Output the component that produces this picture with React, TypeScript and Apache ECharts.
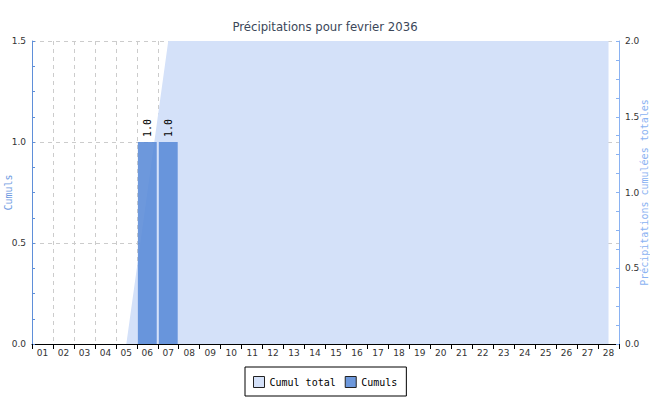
import React, { useEffect, useRef } from "react";
import * as echarts from "echarts";

// Days of the month
const days: string[] = [
  "01", "02", "03", "04", "05", "06", "07", "08", "09", "10",
  "11", "12", "13", "14", "15", "16", "17", "18", "19", "20",
  "21", "22", "23", "24", "25", "26", "27", "28",
];

// Daily precipitation (left axis)
const cumuls: number[] = [
  0, 0, 0, 0, 0, 1.0, 1.0, 0, 0, 0,
  0, 0, 0, 0, 0, 0, 0, 0, 0, 0,
  0, 0, 0, 0, 0, 0, 0, 0,
];

// Running total (right axis)
const cumulTotal: number[] = [
  0, 0, 0, 0, 0, 1.0, 2.0, 2.0, 2.0, 2.0,
  2.0, 2.0, 2.0, 2.0, 2.0, 2.0, 2.0, 2.0, 2.0, 2.0,
  2.0, 2.0, 2.0, 2.0, 2.0, 2.0, 2.0, 2.0,
];

const MONO = "'DejaVu Sans Mono', 'Liberation Mono', monospace";
const TICK_FONT = "'DejaVu Sans', 'Liberation Sans', sans-serif";

export default function App() {
  const ref = useRef<HTMLDivElement>(null);

  useEffect(() => {
    if (!ref.current) return;
    const chart = echarts.init(ref.current, undefined, { renderer: "svg" });
    chart.setOption({
      animation: false,
      backgroundColor: "#ffffff",
      title: {
        text: "Précipitations pour fevrier 2036",
        left: "center",
        top: 15,
        textStyle: {
          fontFamily: "'DejaVu Sans Condensed', 'Liberation Sans Narrow', 'DejaVu Sans', sans-serif",
          fontSize: 13,
          fontWeight: "normal",
          color: "#3b4759",
        },
      },
      grid: {
        left: 32,
        right: 31,
        top: 41,
        bottom: 56,
        containLabel: false,
        outerBoundsMode: "none",
      },
      legend: {
        data: ["Cumul total", "Cumuls"],
        bottom: 4,
        left: 245,
        icon: "rect",
        itemWidth: 11,
        itemHeight: 11,
        itemGap: 9,
        padding: [9, 9, 8, 8],
        borderColor: "#000000",
        borderWidth: 1,
        itemStyle: { borderColor: "#222222", borderWidth: 1 },
        textStyle: { fontFamily: MONO, fontSize: 10, color: "#000000" },
      },
      xAxis: {
        type: "category",
        data: days,
        boundaryGap: true,
        axisLine: { lineStyle: { color: "#000000", width: 1 } },
        axisTick: { show: true, length: 5, lineStyle: { color: "#000000" } },
        axisLabel: {
          interval: 0,
          margin: 4,
          fontSize: 9,
          fontFamily: TICK_FONT,
          color: "#333333",
        },
        splitLine: {
          show: true,
          interval: 0,
          lineStyle: { color: "#cccccc", type: [4, 4] },
        },
      },
      yAxis: [
        {
          type: "value",
          min: 0,
          max: 1.5,
          interval: 0.5,
          position: "left",
          name: "Cumuls",
          nameLocation: "middle",
          nameRotate: 90,
          nameGap: 19,
          nameMoveOverlap: false,
          nameTextStyle: { fontFamily: MONO, fontSize: 10, color: "#6f9be2" },
          axisLine: { show: true, lineStyle: { color: "#5f8fd9" } },
          axisTick: { show: true, inside: true, length: 3, lineStyle: { color: "#5f8fd9" } },
          minorTick: { show: true, splitNumber: 4, length: 3, lineStyle: { color: "#5f8fd9" } },
          axisLabel: {
            formatter: (v: number) => v.toFixed(1),
            margin: 6,
            fontSize: 9,
            fontFamily: TICK_FONT,
            color: "#333333",
          },
          splitLine: { show: true, lineStyle: { color: "#cccccc", type: [4, 4] } },
        },
        {
          type: "value",
          min: 0,
          max: 2,
          interval: 0.5,
          position: "right",
          name: "Précipitations cumulées totales",
          nameLocation: "middle",
          nameRotate: 90,
          nameGap: 20,
          nameMoveOverlap: false,
          nameTextStyle: { fontFamily: MONO, fontSize: 10, color: "#8ab2f2" },
          axisLine: { show: true, lineStyle: { color: "#8ab2f2" } },
          axisTick: { show: true, inside: true, length: 3, lineStyle: { color: "#8ab2f2" } },
          minorTick: { show: true, splitNumber: 4, length: 3, lineStyle: { color: "#8ab2f2" } },
          axisLabel: {
            formatter: (v: number) => v.toFixed(1),
            margin: 6,
            fontSize: 9,
            fontFamily: TICK_FONT,
            color: "#333333",
          },
          splitLine: { show: false },
        },
      ],
      series: [
        {
          name: "Cumul total",
          type: "line",
          yAxisIndex: 1,
          data: cumulTotal,
          symbol: "none",
          color: "#d4e1f9",
          lineStyle: { width: 0 },
          areaStyle: { color: "#d4e1f9", opacity: 1 },
          z: 1,
        },
        {
          name: "Cumuls",
          type: "bar",
          yAxisIndex: 0,
          data: cumuls,
          barCategoryGap: "10%",
          color: "#6a96dc",
          itemStyle: { color: "rgba(89,138,215,0.88)" },
          label: {
            show: true,
            position: "top",
            rotate: 90,
            align: "left",
            verticalAlign: "middle",
            distance: 5,
            fontFamily: MONO,
            fontSize: 10,
            color: "#000000",
            formatter: (p: any) => (p.value > 0 ? Number(p.value).toFixed(1) : ""),
          },
          z: 2,
        },
      ],
    });
    return () => chart.dispose();
  }, []);

  return (
    <div
      ref={ref}
      style={{ position: "absolute", left: 0, top: 0, width: 650, height: 400 }}
    />
  );
}
